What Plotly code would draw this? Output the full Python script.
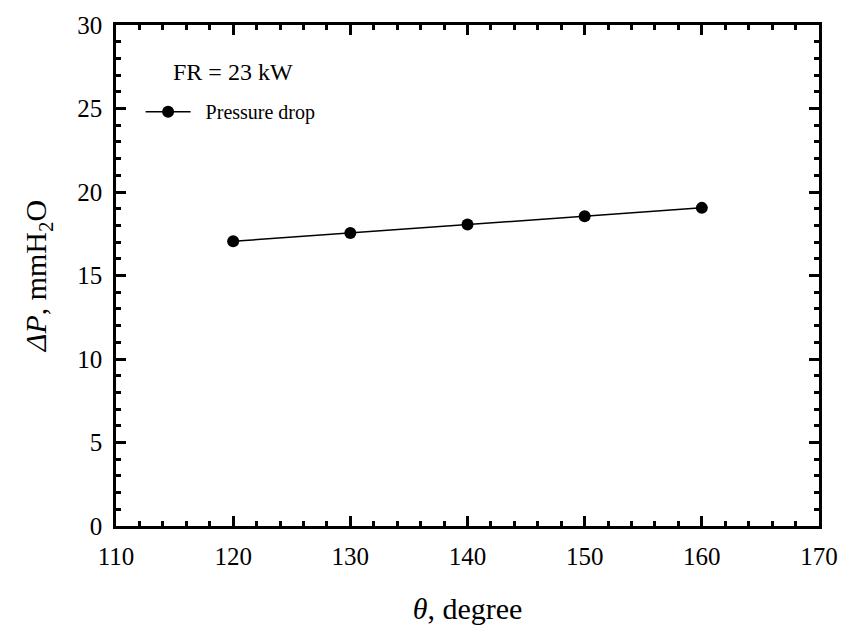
import plotly.graph_objects as go

theta = [120, 130, 140, 150, 160]
pressure_drop = [17.05, 17.55, 18.05, 18.55, 19.05]
x_ticks = [110, 120, 130, 140, 150, 160, 170]
y_ticks = [0, 5, 10, 15, 20, 25, 30]

FONT = "Liberation Serif"

fig = go.Figure()
fig.add_trace(go.Scatter(
    x=theta, y=pressure_drop, mode="lines+markers", name="&nbsp;&nbsp;Pressure drop",
    line=dict(color="black", width=1.5),
    marker=dict(color="black", size=12),
))

axis_common = dict(
    showline=True, linecolor="black", linewidth=2.5, mirror="ticks",
    ticks="inside", ticklen=10, tickwidth=2.5, tickcolor="black",
    showgrid=False, zeroline=False,
    tickfont=dict(family=FONT, size=25, color="black"),
)

fig.update_xaxes(
    range=[110, 170], tickvals=x_ticks, ticktext=[str(v) for v in x_ticks],
    minor=dict(dtick=2, ticks="inside", ticklen=5, tickwidth=2.5, tickcolor="black", showgrid=False),
    title=dict(text="<i>θ</i>, degree", font=dict(family=FONT, size=30, color="black"), standoff=30),
    ticklabelstandoff=6,
    **axis_common,
)
fig.update_yaxes(
    range=[0, 30], tickvals=y_ticks, ticktext=[str(v) for v in y_ticks],
    minor=dict(dtick=1, ticks="inside", ticklen=5, tickwidth=2.5, tickcolor="black", showgrid=False),
    title=dict(text="<i>ΔP</i>, mmH<sub>2</sub>O", font=dict(family=FONT, size=30, color="black"), standoff=22),
    ticklabelstandoff=6,
    **axis_common,
)

fig.add_annotation(
    text="FR = 23 kW", xref="paper", yref="paper", x=0.078, y=0.906,
    xanchor="left", yanchor="middle", showarrow=False,
    font=dict(family=FONT, size=24, color="black"),
)

fig.update_layout(
    width=850, height=633,
    margin=dict(l=116, r=25, t=17, b=105),
    paper_bgcolor="white", plot_bgcolor="white",
    showlegend=True,
    legend=dict(
        x=0.035, y=0.827, xanchor="left", yanchor="middle",
        font=dict(family=FONT, size=20, color="black"),
        bgcolor="rgba(0,0,0,0)", itemwidth=45,
    ),
)

fig.write_html("out.html")
